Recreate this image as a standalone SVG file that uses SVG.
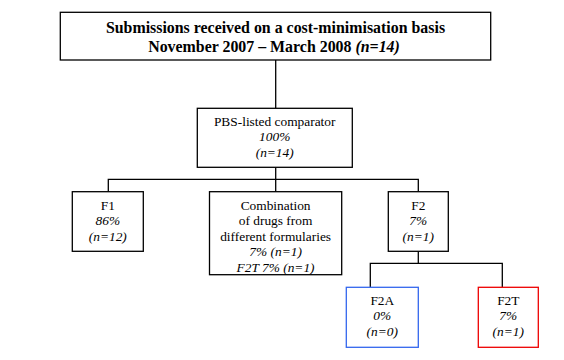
<svg xmlns="http://www.w3.org/2000/svg" width="564" height="360" viewBox="0 0 564 360">
<style>
rect{fill:#fff;stroke:#000;stroke-width:1.3}
.c line,.c polyline{stroke:#000;stroke-width:1.3;fill:none}
text{font-family:"Liberation Serif","Times New Roman","DejaVu Serif",serif;font-size:13.4px;text-anchor:middle;fill:#000}
.t{font-weight:bold;font-size:15.9px}
.i{font-style:italic}
</style>
<rect width="564" height="360" style="stroke:none;fill:#fff"/>
<g class="c" id="connectors">
<line x1="275.7" y1="60" x2="275.7" y2="108.3"/>
<line x1="275.7" y1="167.3" x2="275.7" y2="191.7"/>
<polyline points="108.3,191.7 108.3,179.3 418.3,179.3 418.3,191.7"/>
<polyline points="418.3,251.3 418.3,263.3"/>
<polyline points="370.3,287.3 370.3,263.3 502.3,263.3 502.3,287.3"/>
</g>
<g id="top">
<rect x="60.3" y="12.3" width="430.4" height="47.7"/>
<text class="t" x="275.5" y="32.5">Submissions received on a cost-minimisation basis</text>
<text class="t" x="274" y="51.5">November 2007 – March 2008 <tspan class="i">(n=14)</tspan></text>
</g>
<g id="pbs">
<rect x="197.3" y="108.3" width="155" height="59"/>
<text x="274.7" y="125.5">PBS-listed comparator</text>
<text class="i" x="274.7" y="141">100%</text>
<text class="i" x="274.7" y="156.5">(n=14)</text>
</g>
<g id="f1">
<rect x="72.3" y="191.7" width="71" height="59.6"/>
<text x="107.8" y="209.5">F1</text>
<text class="i" x="107.8" y="225">86%</text>
<text class="i" x="107.8" y="240.5">(n=12)</text>
</g>
<g id="combo">
<rect x="209.5" y="191.7" width="132.2" height="83"/>
<text x="275.6" y="209.5">Combination</text>
<text x="275.6" y="225">of drugs from</text>
<text x="275.6" y="240.5">different formularies</text>
<text class="i" x="275.6" y="256">7% (n=1)</text>
<text class="i" x="275.6" y="271.5">F2T 7% (n=1)</text>
</g>
<g id="f2">
<rect x="388.3" y="191.7" width="60" height="59.6"/>
<text x="418.3" y="209.5">F2</text>
<text class="i" x="418.3" y="225">7%</text>
<text class="i" x="418.3" y="240.5">(n=1)</text>
</g>
<g id="f2a">
<rect x="346.3" y="287.3" width="72" height="60" style="stroke:#3366ee"/>
<text x="382.3" y="304.5">F2A</text>
<text class="i" x="382.3" y="320">0%</text>
<text class="i" x="382.3" y="335.5">(n=0)</text>
</g>
<g id="f2t">
<rect x="478.3" y="287.3" width="60" height="60" style="stroke:#ee0000"/>
<text x="508.3" y="304.5">F2T</text>
<text class="i" x="508.3" y="320">7%</text>
<text class="i" x="508.3" y="335.5">(n=1)</text>
</g>
</svg>
